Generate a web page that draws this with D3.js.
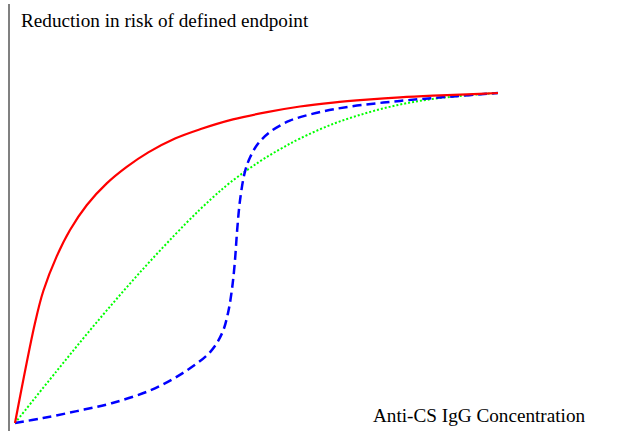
<!DOCTYPE html>
<html>
<head>
<meta charset="utf-8">
<script src="https://cdn.jsdelivr.net/npm/d3@7"></script>
<style>
  html, body { margin: 0; padding: 0; background: #fff; }
  svg { display: block; }
</style>
</head>
<body>
<svg id="chart" width="618" height="431"></svg>
<script>
// Concentration (arbitrary units, 0-10) and risk reduction (% of max)
const redX   = [0, 0.414, 0.586, 0.863, 1.139, 1.484, 1.899, 2.313, 2.760, 3.313, 3.830, 4.513, 5.217, 5.901, 6.584, 7.288, 7.971, 8.654, 9.358, 10];
const redY   = [0, 30.3, 40.0, 50.5, 58.5, 66.0, 72.6, 77.6, 82.0, 86.2, 89.0, 92.0, 94.2, 95.9, 97.1, 98.0, 98.7, 99.2, 99.6, 100];

const greenX = [0, 0.85, 1.69, 2.61, 3.54, 4.07, 4.45, 5.04, 5.49, 5.90, 6.58, 7.29, 7.97, 8.65, 9.36, 10];
const greenY = [0, 15.5, 30.5, 46.0, 60.5, 68.0, 72.8, 79.0, 83.0, 86.2, 90.6, 94.0, 96.5, 98.2, 99.3, 100];

const blueX  = [0, 0.58, 1.28, 2.00, 2.80, 3.48, 4.04, 4.29, 4.41, 4.49, 4.55, 4.60, 4.66, 4.76, 4.87, 5.03, 5.28, 5.69, 6.25, 6.94, 7.97, 9.01, 10];
const blueY  = [0, 1.5, 3.6, 6.0, 9.9, 15.2, 21.5, 27.3, 33.3, 40.3, 48.5, 58.5, 67.6, 76.1, 80.6, 84.6, 88.2, 91.6, 94.0, 95.9, 97.6, 98.9, 100];

const yLabel = "Reduction in risk of defined endpoint";
const xLabel = "Anti-CS IgG Concentration";

const svg = d3.select("#chart");
const x = d3.scaleLinear().domain([0, 10]).range([15, 498]);
const y = d3.scaleLinear().domain([0, 100]).range([423, 93]);

// vertical axis line
svg.append("line")
  .attr("x1", 9).attr("x2", 9).attr("y1", 4).attr("y2", 431)
  .attr("stroke", "#808080").attr("stroke-width", 2);

const line = d3.line().x(d => x(d[0])).y(d => y(d[1])).curve(d3.curveCatmullRom.alpha(0.5));
const zip = (a, b) => a.map((v, i) => [v, b[i]]);

svg.append("path").datum(zip(greenX, greenY))
  .attr("d", line).attr("fill", "none")
  .attr("stroke", "#00ff00").attr("stroke-width", 2)
  .attr("stroke-dasharray", "2,2");

svg.append("path").datum(zip(blueX, blueY))
  .attr("d", line).attr("fill", "none")
  .attr("stroke", "#0000ff").attr("stroke-width", 2.5)
  .attr("stroke-dasharray", "9,5");

svg.append("path").datum(zip(redX, redY))
  .attr("d", line).attr("fill", "none")
  .attr("stroke", "#ff0000").attr("stroke-width", 2.2);

svg.append("text")
  .attr("x", 21).attr("y", 27)
  .attr("font-family", "'Liberation Serif', 'Times New Roman', serif")
  .attr("font-size", 19.2).attr("fill", "#000")
  .text(yLabel);

svg.append("text")
  .attr("x", 373).attr("y", 422)
  .attr("font-family", "'Liberation Serif', 'Times New Roman', serif")
  .attr("font-size", 19.2).attr("fill", "#000")
  .text(xLabel);
</script>
</body>
</html>
